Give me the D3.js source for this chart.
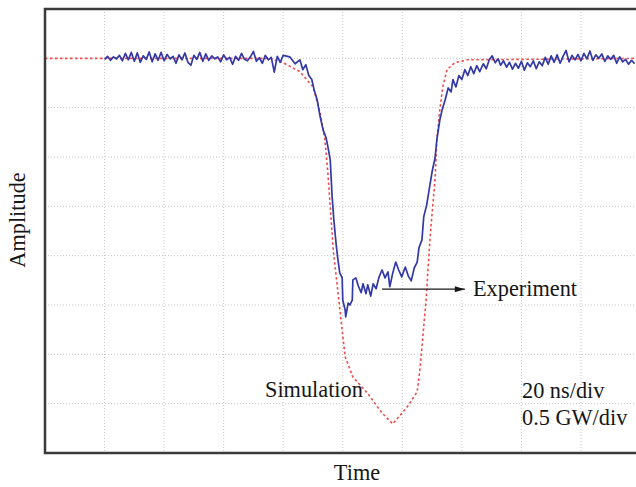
<!DOCTYPE html>
<html>
<head>
<meta charset="utf-8">
<script src="https://cdn.jsdelivr.net/npm/d3@7"></script>
<style>
  body { margin: 0; background: #fff; }
  text { font-family: "Liberation Serif", "Times New Roman", serif; fill: #161616; }
  .grid line { stroke: #c8c8c8; stroke-width: 1; stroke-dasharray: 1,2; }
</style>
</head>
<body>
<div id="chart"></div>
<script>
// time and amplitude in scope divisions (20 ns/div, 0.5 GW/div)
var simTime = [0, 3.78, 4.00, 4.28, 4.50, 4.62, 4.70, 4.75, 4.84, 4.92, 4.99, 5.04, 5.17, 5.41, 5.66, 5.84,
  6.08, 6.25, 6.30, 6.35, 6.40, 6.43, 6.48, 6.55, 6.58, 6.63, 6.68, 6.75, 6.88, 7.09, 10];
var simAmp = [8.00, 8.00, 7.91, 7.73, 7.42, 6.90, 6.35, 5.68, 4.12, 3.25, 2.49, 1.95, 1.54, 1.22, 0.81, 0.59,
  0.93, 1.24, 1.74, 2.43, 3.10, 3.71, 4.58, 5.54, 6.35, 6.96, 7.42, 7.77, 7.91, 7.97, 8.00];

var expTime = [1.00, 1.05, 1.10, 1.15, 1.20, 1.25, 1.30, 1.35, 1.40, 1.45, 1.50, 1.55, 1.60, 1.65, 1.70, 1.75,
  1.80, 1.85, 1.90, 1.95, 2.00, 2.05, 2.10, 2.15, 2.20, 2.25, 2.30, 2.35, 2.40, 2.45, 2.50, 2.55, 2.60, 2.65,
  2.70, 2.75, 2.80, 2.85, 2.90, 2.95, 3.00, 3.05, 3.10, 3.15, 3.20, 3.25, 3.30, 3.35, 3.40, 3.45, 3.50, 3.55,
  3.60, 3.65, 3.70, 3.75, 3.80, 3.85, 3.90, 3.95, 4.00,
  4.11, 4.20, 4.28, 4.33, 4.38, 4.43, 4.48, 4.52, 4.57, 4.62, 4.67, 4.72, 4.75, 4.79, 4.82, 4.85, 4.89, 4.92,
  4.95, 4.99, 5.00, 5.04, 5.05, 5.09, 5.12, 5.16, 5.17, 5.22, 5.26, 5.31, 5.34, 5.39, 5.42, 5.47, 5.51, 5.56,
  5.61, 5.66, 5.71, 5.76, 5.79, 5.84, 5.89, 5.94, 5.99, 6.05, 6.10, 6.15, 6.20, 6.25, 6.28, 6.33, 6.36, 6.41,
  6.45, 6.50, 6.55, 6.58, 6.63, 6.67, 6.72, 6.77, 6.82, 6.85, 6.90, 6.95, 7.00, 7.05, 7.10, 7.15, 7.20, 7.25,
  7.30, 7.36, 7.41, 7.46, 7.51, 7.56, 7.61,
  7.65, 7.70, 7.75, 7.80, 7.85, 7.90, 7.95, 8.00, 8.05, 8.10, 8.15, 8.20, 8.25, 8.30, 8.35, 8.40, 8.45, 8.50,
  8.55, 8.60, 8.65, 8.70, 8.75, 8.80, 8.85, 8.90, 8.95, 9.00, 9.05, 9.10, 9.15, 9.20, 9.25, 9.30, 9.35, 9.40,
  9.45, 9.50, 9.55, 9.60, 9.65, 9.70, 9.75, 9.80, 9.85, 9.90];
var expAmp = [7.98, 8.04, 7.96, 8.03, 7.99, 8.06, 7.95, 8.10, 7.97, 8.12, 7.94, 8.11, 7.92, 8.05, 7.98, 8.13,
  7.93, 8.09, 7.96, 8.12, 7.95, 8.08, 7.99, 8.04, 7.90, 8.07, 7.97, 8.11, 7.92, 7.86, 8.06, 7.98, 8.12, 7.94,
  8.09, 7.96, 8.05, 7.99, 8.03, 7.93, 8.07, 7.97, 8.02, 7.88, 8.04, 7.96, 8.10, 7.98, 7.95, 8.03, 8.14, 7.94,
  8.01, 7.90, 8.06, 7.97, 8.02, 7.72, 8.04, 7.92, 8.06,
  8.03, 7.89, 7.97, 7.77, 7.87, 7.65, 7.57, 7.36, 7.16, 6.82, 6.55, 6.39, 6.21, 5.94, 5.23, 4.73, 4.22, 3.91,
  3.65, 3.55, 3.10, 2.90, 2.76, 3.04, 3.00, 3.10, 3.51, 3.55, 3.39, 3.25, 3.43, 3.23, 3.41, 3.18, 3.43, 3.33,
  3.57, 3.71, 3.55, 3.67, 3.37, 3.65, 3.87, 3.71, 3.57, 3.77, 3.59, 3.49, 3.75, 3.87, 4.16, 4.32, 4.79, 5.03,
  5.33, 5.70, 5.98, 6.35, 6.75, 6.96, 7.16, 7.40, 7.32, 7.57, 7.42, 7.65, 7.57, 7.77, 7.65, 7.83, 7.69, 7.85,
  7.73, 7.89, 7.79, 7.97, 8.05, 7.91, 7.99,
  7.86, 7.95, 7.82, 7.92, 7.78, 7.90, 7.80, 7.94, 7.76, 7.91, 7.83, 7.95, 7.79, 7.93, 7.85, 8.02, 7.88, 8.05,
  7.92, 8.07, 7.90, 8.04, 8.16, 7.93, 8.06, 7.97, 8.08, 7.95, 8.10, 7.99, 8.15, 7.96, 8.07, 8.00, 8.09, 7.94,
  8.05, 7.98, 8.06, 7.90, 8.03, 7.93, 7.98, 7.88, 7.96, 7.89];

var xGrid = [1, 2, 3, 4, 5, 6, 7, 8, 9];
var yGrid = [1, 2, 3, 4, 5, 6, 7, 8];

var W = 636, H = 487;
var plotLeft = 45, plotTop = 9, plotBottom = 453, plotRight = 640.5;

var svg = d3.select("#chart").append("svg").attr("width", W).attr("height", H);

var x = d3.scaleLinear().domain([0, 10]).range([plotLeft, plotRight]);
var y = d3.scaleLinear().domain([0, 9]).range([plotBottom, plotTop]);

// dotted graticule
var grid = svg.append("g").attr("class", "grid");
grid.selectAll(".vx").data(xGrid).enter().append("line")
    .attr("x1", function(d){ return x(d); }).attr("x2", function(d){ return x(d); })
    .attr("y1", plotTop).attr("y2", plotBottom);
grid.selectAll(".hy").data(yGrid).enter().append("line")
    .attr("x1", plotLeft).attr("x2", W)
    .attr("y1", function(d){ return y(d); }).attr("y2", function(d){ return y(d); });

var sim = simTime.map(function(t, i){ return [t, simAmp[i]]; });
var exp = expTime.map(function(t, i){ return [t, expAmp[i]]; });

var line = d3.line().x(function(d){ return x(d[0]); }).y(function(d){ return y(d[1]); });

svg.append("path").datum(sim).attr("d", line)
    .attr("fill", "none").attr("stroke", "#f24a4a").attr("stroke-width", 1.6)
    .attr("stroke-dasharray", "2.5,2.5");

svg.append("path").datum(exp).attr("d", line)
    .attr("fill", "none").attr("stroke", "#3238a6").attr("stroke-width", 1.7)
    .attr("stroke-linejoin", "round");

// frame: left, top, bottom (right side runs off the picture)
svg.append("path")
    .attr("d", "M" + W + "," + plotTop + "H" + plotLeft + "V" + plotBottom + "H" + W)
    .attr("fill", "none").attr("stroke", "#3a3a3a").attr("stroke-width", 2.5);

// annotation arrow
svg.append("defs").append("marker").attr("id", "head")
    .attr("viewBox", "0 0 10 6").attr("refX", 10).attr("refY", 3)
    .attr("markerWidth", 12).attr("markerHeight", 6).attr("markerUnits", "userSpaceOnUse")
    .attr("orient", "auto")
  .append("path").attr("d", "M0,0L10,3L0,6Z").attr("fill", "#161616");
svg.append("line")
    .attr("x1", x(5.66)).attr("x2", x(7.05))
    .attr("y1", y(3.32)).attr("y2", y(3.32))
    .attr("stroke", "#161616").attr("stroke-width", 1.2)
    .attr("marker-end", "url(#head)");

svg.append("text").attr("x", 473).attr("y", 296).attr("font-size", 22.3).text("Experiment");
svg.append("text").attr("x", 265).attr("y", 397).attr("font-size", 22.3).text("Simulation");
svg.append("text").attr("x", 522).attr("y", 398).attr("font-size", 22.3).text("20 ns/div");
svg.append("text").attr("x", 522).attr("y", 425).attr("font-size", 22.3).text("0.5 GW/div");

svg.append("text").attr("x", 357).attr("y", 480).attr("text-anchor", "middle")
    .attr("font-size", 22.3).text("Time");
svg.append("text").attr("transform", "translate(25,220) rotate(-90)")
    .attr("text-anchor", "middle").attr("font-size", 22.3).text("Amplitude");
</script>
</body>
</html>
